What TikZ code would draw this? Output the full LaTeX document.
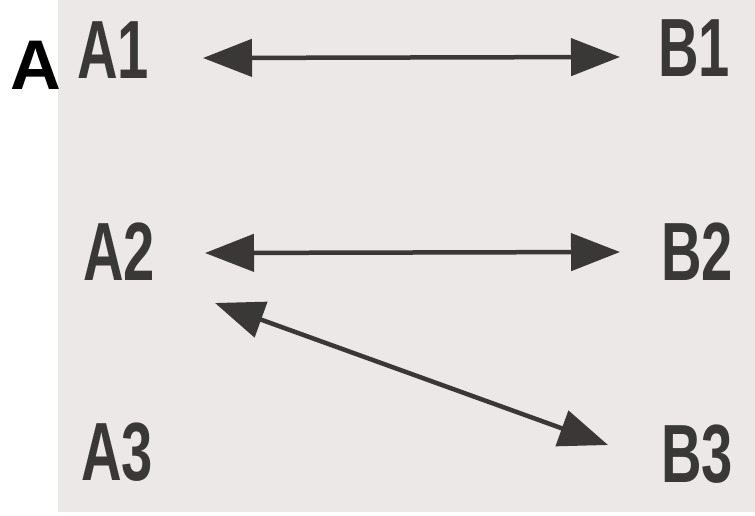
\documentclass[tikz,border=0pt]{standalone}
\usepackage{fontspec}
\setmainfont{Liberation Sans}
\usepackage{tikz}
\usetikzlibrary{arrows.meta,positioning,calc}
\definecolor{pgpaper}{HTML}{EDE8E8}
\definecolor{pgink}{HTML}{3A3737}
\newcommand{\narrowtxt}[1]{\scalebox{0.68}[1]{#1}}

\begin{document}
\begin{tikzpicture}[
  lbl/.style={font=\fontsize{47}{50}\selectfont\bfseries,text=pgink,inner sep=0pt},
  link/.style={{Triangle[length=0.98cm,width=0.74cm]}-{Triangle[length=0.98cm,width=0.74cm]},line width=0.09cm,pgink}]
  \useasboundingbox (0,0) rectangle (15.1,10.3);
  % paper scan background
  \fill[pgpaper] (1.16,0.06) rectangle (15.1,10.3);
  \node[font=\fontsize{40}{42}\selectfont\bfseries,inner sep=0pt] (panel) at (0.71,9.00) {A};
  % left column
  \node[lbl] (a1) at (2.26,9.30) {\narrowtxt{A1}};
  \node[lbl] (a2) at (2.38,5.26) {\narrowtxt{A2}};
  \node[lbl] (a3) at (2.34,1.26) {\narrowtxt{A3}};
  % right column
  \node[lbl] (b1) at (13.88,9.34) {\narrowtxt{B1}};
  \node[lbl] (b2) at (13.94,5.26) {\narrowtxt{B2}};
  \node[lbl] (b3) at (13.94,1.22) {\narrowtxt{B3}};
  % links
  \draw[link] ($(a1)+(1.80,-0.16)$) -- ($(b1)+(-1.48,-0.18)$);
  \draw[link] ($(a2)+(1.72,-0.02)$) -- ($(b2)+(-1.54,0)$);
  \draw[link] ($(a2)+(1.92,-1.02)$) -- ($(b3)+(-1.78,0.18)$);
\end{tikzpicture}
\end{document}
